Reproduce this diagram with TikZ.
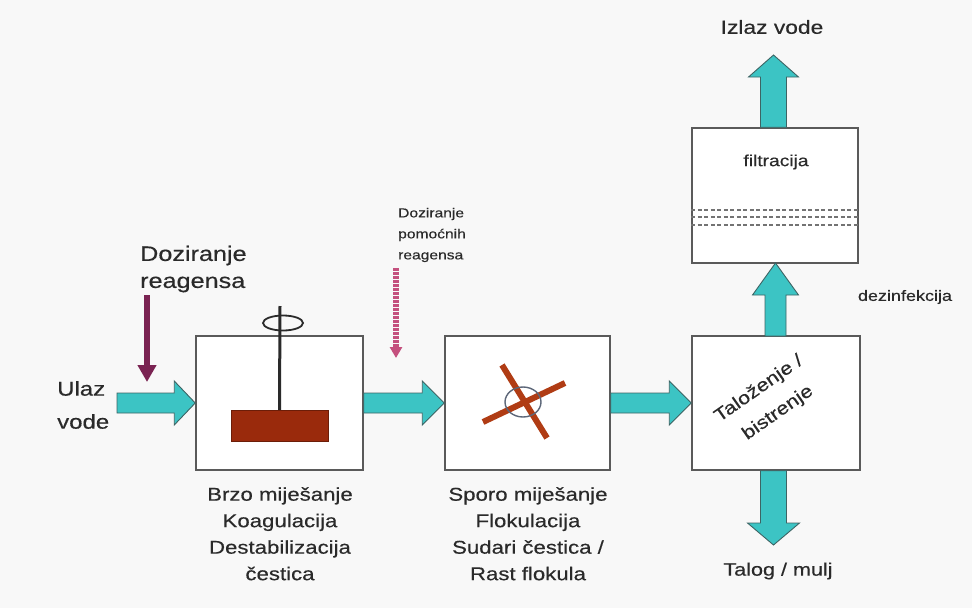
\documentclass[tikz,border=0pt]{standalone}
\usepackage{fontspec}
\setmainfont{Liberation Sans}[FakeStretch=1.2,FakeBold=0.35]
\usetikzlibrary{calc,arrows.meta,shapes.geometric}

\definecolor{paper}{HTML}{F8F8F8}
\definecolor{flow}{HTML}{3CC4C4}
\definecolor{flowedge}{HTML}{3D6464}
\definecolor{boxedge}{HTML}{5A5A5A}
\definecolor{dosing}{HTML}{7A2352}
\definecolor{aiddose}{HTML}{C4507E}
\definecolor{paddle}{HTML}{9A2A0C}
\definecolor{blade}{HTML}{B03C14}
\definecolor{hubline}{HTML}{5C6678}
\definecolor{ink}{HTML}{2A2A2A}

\tikzset{
  procbox/.style={draw=boxedge, line width=1.5pt, fill=white, inner sep=0pt},
  flowstyle/.style={fill=flow, draw=flowedge, line width=0.9pt, line join=miter},
  lbl/.style={text=ink, inner sep=0pt, align=center},
  filterline/.style={draw=gray!90!black, line width=1.8pt, dash pattern=on 4pt off 2.5pt}
}

% fat block arrow: start, end, shaft half width, head half width, head length
\newcommand\flowarrow[5]{%
  \coordinate (fa-b) at ($(#2)!#5!(#1)$);
  \filldraw[flowstyle]
    ($(#1)!#3!90:(#2)$) -- ($(fa-b)!#3!90:(#2)$) -- ($(fa-b)!#4!90:(#2)$) -- (#2)
    -- ($(fa-b)!#4!-90:(#2)$) -- ($(fa-b)!#3!-90:(#2)$) -- ($(#1)!#3!-90:(#2)$) -- cycle;}

\begin{document}
\begin{tikzpicture}[x=1pt,y=-1pt]
  % page
  \fill[paper] (0,0) rectangle (972,608);

  % process units
  \node[procbox, minimum width=167pt, minimum height=134pt] (b1) at (279.5,403) {};
  \node[procbox, minimum width=165pt, minimum height=134pt] (b2) at (527.5,403) {};
  \node[procbox, minimum width=168pt, minimum height=134pt] (b3) at (776,403) {};
  \node[procbox, minimum width=166pt, minimum height=135pt] (f) at (775,195.5) {};

  % filter media
  \draw[filterline] (f.west |- 0,210) -- (f.east |- 0,210);
  \draw[filterline] (f.west |- 0,217) -- (f.east |- 0,217);
  \draw[filterline] (f.west |- 0,225) -- (f.east |- 0,225);

  % water flow
  \coordinate (inA) at (117,403);
  \coordinate (up1) at (775.5,336);
  \coordinate (up2) at (775.5,263);
  \coordinate (outA) at (773.5,55);
  \coordinate (sludge) at (773.5,545);
  \coordinate (outB) at (f.north -| outA);
  \coordinate (slB) at (b3.south -| sludge);
  \flowarrow{inA}{b1.west}{10pt}{22pt}{21pt}
  \flowarrow{b1.east}{b2.west}{10pt}{22pt}{22pt}
  \flowarrow{b2.east}{b3.west}{10pt}{22pt}{22pt}
  \flowarrow{up1}{up2}{10.5pt}{23pt}{32pt}
  \flowarrow{outB}{outA}{13pt}{25pt}{22pt}
  \flowarrow{slB}{sludge}{13pt}{26pt}{22pt}

  % reagent dosing
  \coordinate (d1) at (147,295);
  \coordinate (d2) at (147,382);
  \draw[dosing, line width=6pt, -{Triangle[width=18pt,length=17pt]}] (d1) -- (d2);
  \coordinate (a1) at (396,268);
  \coordinate (a2) at (396,358);
  \draw[aiddose, line width=5.5pt, dash pattern=on 2.5pt off 1.5pt,
        -{Triangle[width=12pt,length=11pt]}] (a1) -- (a2);

  % rapid mixer
  \node[draw=paddle!70!black, fill=paddle, minimum width=97pt, minimum height=31pt,
        inner sep=0pt] (pad) at (279.5,425.5) {};
  \coordinate (shaft) at (280,306);
  \draw[ink, line width=3pt] (shaft) -- (pad.north);
  \draw[ink, line width=1.8pt] (283,323) ellipse [x radius=20, y radius=7.5];

  % slow mixer
  \draw[blade, line width=6pt] (502,365) -- (547,438);
  \draw[blade, line width=6pt] (483,422) -- (565,383);
  \node[draw=hubline, line width=1.4pt, ellipse, minimum width=36pt, minimum height=30pt,
        inner sep=0pt] (hub) at (523,402) {};

  % texts
  \node[lbl, anchor=west, font=\fontsize{21}{27}\selectfont, align=left] (dzr)
    at (140,269) {Doziranje\\reagensa};
  \node[lbl, anchor=west, font=\fontsize{20}{33}\selectfont, align=left] (ulaz)
    at (57,405) {Ulaz\\vode};
  \node[lbl, anchor=west, font=\fontsize{13}{21}\selectfont, align=left] (dzp)
    at (398,235) {Doziranje\\pomoćnih\\reagensa};
  \node[lbl, font=\fontsize{19}{24}\selectfont] (izlaz) at (772,27) {Izlaz vode};
  \node[lbl, font=\fontsize{16}{20}\selectfont] (ft) at (776,162) {filtracija};
  \node[lbl, font=\fontsize{15}{20}\selectfont] (dez) at (905,297) {dezinfekcija};
  \node[lbl, font=\fontsize{18}{24}\selectfont] (talog) at (778,571) {Talog / mulj};
  \node[lbl, font=\fontsize{18}{24}\selectfont, rotate=35] (tal1) at (759,389) {Taloženje /};
  \node[lbl, font=\fontsize{18}{24}\selectfont, rotate=35] (tal2) at (778,413) {bistrenje};
  \node[lbl, anchor=north, font=\fontsize{18.5}{26.5}\selectfont] (t1) at (280,487)
    {Brzo miješanje\\Koagulacija\\Destabilizacija\\čestica};
  \node[lbl, anchor=north, font=\fontsize{18.5}{26.5}\selectfont] (t2) at (528,487)
    {Sporo miješanje\\Flokulacija\\Sudari čestica /\\Rast flokula};
\end{tikzpicture}
\end{document}
